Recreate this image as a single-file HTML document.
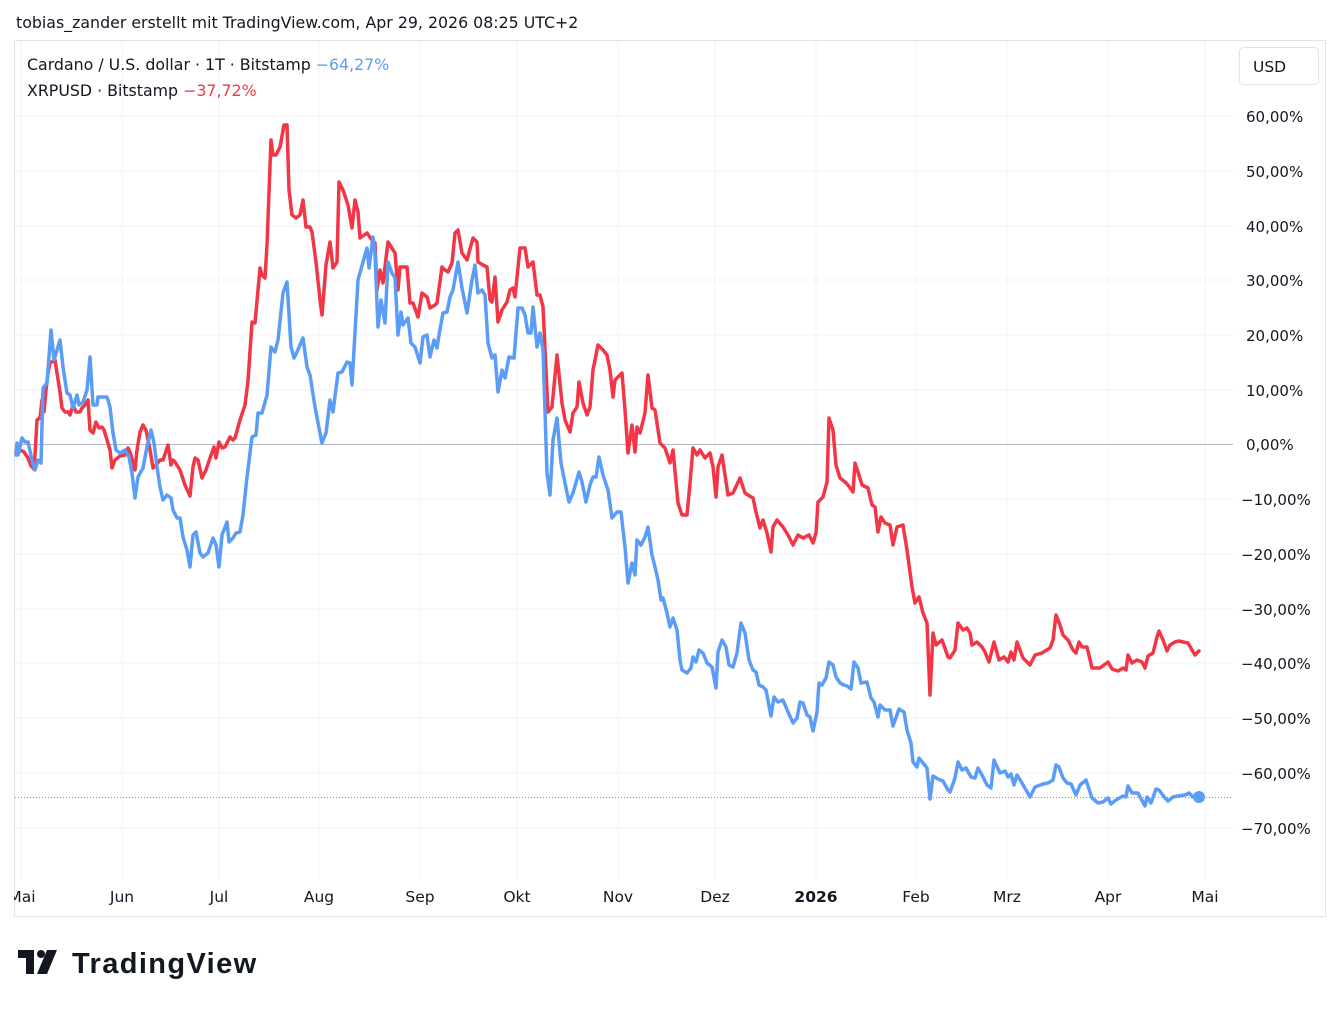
<!DOCTYPE html>
<html><head><meta charset="utf-8"><style>
body{margin:0;background:#fff;font-family:"DejaVu Sans",sans-serif;}
svg text{font-family:"DejaVu Sans",sans-serif;}
</style></head><body>
<svg width="1341" height="1007" xmlns="http://www.w3.org/2000/svg">
<rect width="1341" height="1007" fill="#fff"/>
<text x="16" y="28" font-size="15.8" fill="#131722">tobias_zander erstellt mit TradingView.com, Apr 29, 2026 08:25 UTC+2</text>
<rect x="14.5" y="40.5" width="1311" height="876" fill="none" stroke="#e0e3eb"/>
<g stroke="#f0f3fa" stroke-width="1">
<line x1="15" y1="116" x2="1233" y2="116"/><line x1="15" y1="171" x2="1233" y2="171"/><line x1="15" y1="226" x2="1233" y2="226"/><line x1="15" y1="280" x2="1233" y2="280"/><line x1="15" y1="335" x2="1233" y2="335"/><line x1="15" y1="390" x2="1233" y2="390"/><line x1="15" y1="499" x2="1233" y2="499"/><line x1="15" y1="554" x2="1233" y2="554"/><line x1="15" y1="609" x2="1233" y2="609"/><line x1="15" y1="663" x2="1233" y2="663"/><line x1="15" y1="718" x2="1233" y2="718"/><line x1="15" y1="773" x2="1233" y2="773"/><line x1="15" y1="828" x2="1233" y2="828"/>
<line x1="21" y1="41" x2="21" y2="880"/><line x1="122" y1="41" x2="122" y2="880"/><line x1="219" y1="41" x2="219" y2="880"/><line x1="319" y1="41" x2="319" y2="880"/><line x1="420" y1="41" x2="420" y2="880"/><line x1="517" y1="41" x2="517" y2="880"/><line x1="618" y1="41" x2="618" y2="880"/><line x1="715" y1="41" x2="715" y2="880"/><line x1="816" y1="41" x2="816" y2="880"/><line x1="916" y1="41" x2="916" y2="880"/><line x1="1007" y1="41" x2="1007" y2="880"/><line x1="1108" y1="41" x2="1108" y2="880"/><line x1="1205" y1="41" x2="1205" y2="880"/>
</g>
<line x1="15" y1="444.5" x2="1233" y2="444.5" stroke="#b2b5be" stroke-width="1"/>
<line x1="15" y1="797.5" x2="1233" y2="797.5" stroke="#5b9cf6" stroke-width="1" stroke-dasharray="1,2"/>
<g fill="none" stroke-width="3.5" stroke-linejoin="round" stroke-linecap="round">
<polyline stroke="#f23645" points="16,452 20,450 24,452 28,458 31,466 34,469 35,455 37,420 40,418 42,400 44,412 46,390 48,373 50,363 55,360 57,373 60,392 62,408 65,412 68,412 70,415 73,405 76,412 80,412 82,408 85,405 88,400 90,430 93,433 96,422 99,428 102,427 104,430 107,440 110,450 112,468 115,460 120,456 125,455 128,448 130,452 133,462 135,470 137,450 140,432 143,425 146,430 150,450 153,468 156,465 160,460 163,460 168,445 171,465 173,460 175,462 180,470 185,485 190,496 193,467 195,458 198,460 202,478 206,470 210,458 214,447 216,458 219,442 222,448 225,447 230,437 233,440 235,438 240,420 245,405 248,381 252,322 255,323 260,268 262,275 265,278 267,245 271,140 273,155 276,155 280,147 284,125 287,125 289,190 292,215 296,218 300,215 303,200 306,227 310,227 312,232 316,262 320,300 322,315 326,265 330,242 333,268 337,262 339,182 343,190 348,205 352,228 355,200 358,212 360,238 367,233 372,240 375,243 377,290 380,270 383,283 388,242 395,253 398,290 400,267 407,267 410,303 413,303 418,317 422,293 427,297 430,308 435,305 437,303 442,267 445,270 448,272 452,263 455,233 458,230 462,253 467,260 473,238 477,242 478,262 483,265 487,267 490,300 492,302 495,277 498,322 502,310 507,302 510,290 513,288 515,297 520,248 525,248 528,267 533,262 537,295 540,295 543,307 548,412 552,407 557,355 562,403 565,420 570,432 573,413 577,407 579,382 583,403 587,415 590,407 593,370 598,345 603,350 607,355 610,370 613,397 615,380 622,373 625,410 628,453 632,425 635,452 637,427 640,433 645,413 648,375 652,408 655,410 660,443 665,448 670,463 673,450 678,503 682,515 687,515 690,483 693,448 697,455 700,450 705,458 710,453 713,467 716,497 718,467 722,455 728,495 733,493 740,478 745,493 748,495 753,498 756,512 760,528 763,520 767,533 771,552 773,527 777,520 783,527 788,535 793,545 798,535 803,538 809,535 813,543 816,533 818,502 823,497 827,482 829,418 833,430 836,465 840,478 845,482 848,485 853,492 855,463 858,472 862,485 868,488 872,505 875,507 878,532 881,517 885,523 890,525 893,545 897,527 903,525 907,550 912,587 915,603 919,597 923,613 927,623 930,695 933,633 936,645 942,640 948,657 950,658 955,650 958,623 963,630 967,628 970,633 972,645 977,642 982,647 985,652 989,662 994,642 999,660 1004,657 1008,662 1011,652 1014,660 1017,642 1023,658 1030,665 1035,655 1042,653 1050,648 1053,640 1056,615 1060,625 1063,635 1068,640 1073,650 1076,653 1079,642 1082,647 1087,647 1092,668 1100,668 1108,662 1112,669 1118,671 1123,668 1126,670 1128,655 1132,663 1137,660 1142,662 1145,668 1148,656 1153,653 1157,637 1159,631 1163,640 1167,651 1170,645 1175,642 1179,641 1183,642 1188,643 1192,650 1195,655 1199,651"/>
<polyline stroke="#5b9cf6" points="16,455 17,443 18,455 22,438 25,442 28,442 32,460 35,470 38,460 41,463 43,388 47,383 51,330 54,360 57,350 60,340 63,367 67,393 70,395 73,408 77,395 79,405 83,402 87,390 90,357 93,405 97,405 98,397 107,397 110,407 113,433 116,450 120,453 125,450 129,457 132,473 135,498 138,477 143,468 147,447 151,430 154,443 157,467 160,487 163,500 167,495 171,498 173,510 177,518 180,518 183,537 187,550 190,567 193,535 196,532 200,553 203,557 208,553 213,538 216,545 219,567 222,535 227,522 229,542 233,538 236,533 240,532 243,515 247,477 252,437 256,435 258,413 262,413 267,395 271,347 275,352 278,340 283,293 287,282 291,347 294,358 297,352 303,338 307,367 310,375 315,407 320,433 322,443 326,433 330,400 333,412 338,373 342,372 347,362 350,363 352,385 358,280 363,262 367,248 369,268 373,237 375,253 378,327 381,300 385,323 388,262 392,273 395,278 398,335 401,312 403,325 408,318 411,343 415,347 420,363 423,337 427,335 430,357 434,340 437,348 439,335 443,313 447,312 450,297 453,290 458,262 462,288 467,313 472,280 475,265 478,293 482,290 485,295 488,343 492,358 495,355 498,392 502,370 505,378 509,357 514,358 518,308 522,308 525,315 528,333 531,333 533,307 537,347 540,333 543,350 547,473 550,495 553,440 557,418 561,463 565,483 569,502 573,493 579,472 582,482 586,502 590,485 593,477 596,477 599,457 603,475 608,490 612,518 617,512 621,512 625,547 628,583 632,563 635,575 637,540 641,545 645,537 648,527 652,555 655,567 658,580 661,600 663,598 667,613 670,627 673,618 677,630 680,660 682,670 687,673 691,668 693,657 696,662 699,650 703,653 707,663 712,667 716,688 718,652 722,640 726,647 729,665 733,667 737,653 741,623 745,633 749,660 753,670 756,672 759,685 763,687 766,690 771,716 774,697 778,702 783,700 788,712 793,723 797,718 800,702 803,703 807,715 810,717 813,731 817,712 819,683 822,685 826,678 829,662 833,665 836,677 840,683 844,685 847,686 851,689 854,662 858,668 861,683 867,682 871,698 874,702 878,717 880,705 885,710 890,710 893,726 899,709 904,712 907,730 911,743 913,762 917,767 919,758 923,763 927,768 930,799 933,776 938,779 943,781 948,790 950,792 955,778 958,762 962,770 966,768 971,777 975,778 978,768 983,777 987,785 991,788 994,760 1000,773 1005,771 1008,777 1011,774 1014,785 1017,775 1022,783 1030,797 1035,787 1043,784 1048,783 1053,780 1056,765 1059,767 1063,778 1067,783 1071,784 1076,795 1080,785 1086,780 1092,798 1098,803 1103,802 1108,798 1111,804 1116,800 1123,796 1126,797 1128,786 1132,793 1138,793 1145,806 1147,797 1151,803 1156,789 1159,790 1165,798 1168,801 1173,797 1178,796 1185,795 1189,793 1193,797 1199,797"/>
</g>
<circle cx="1199" cy="797" r="6" fill="#5b9cf6"/>
<g font-size="15.8" fill="#131722">
<text x="27" y="70">Cardano / U.S. dollar · 1T · Bitstamp <tspan fill="#5b9cf6">−64,27%</tspan></text>
<text x="27" y="96">XRPUSD · Bitstamp <tspan fill="#f23645">−37,72%</tspan></text>
</g>
<rect x="1239.5" y="47.5" width="79" height="37" rx="4" fill="#fff" stroke="#e0e3eb"/>
<text x="1253" y="72" font-size="15.5" fill="#131722">USD</text>
<g font-size="15" fill="#131722">
<text x="1246" y="122">60,00%</text><text x="1246" y="177">50,00%</text><text x="1246" y="232">40,00%</text><text x="1246" y="286">30,00%</text><text x="1246" y="341">20,00%</text><text x="1246" y="396">10,00%</text><text x="1246" y="450">0,00%</text><text x="1241" y="505">−10,00%</text><text x="1241" y="560">−20,00%</text><text x="1241" y="615">−30,00%</text><text x="1241" y="669">−40,00%</text><text x="1241" y="724">−50,00%</text><text x="1241" y="779">−60,00%</text><text x="1241" y="834">−70,00%</text>
</g>
<g font-size="15.5" fill="#131722" text-anchor="middle">
<text x="22" y="902">Mai</text><text x="122" y="902">Jun</text><text x="219" y="902">Jul</text><text x="319" y="902">Aug</text><text x="420" y="902">Sep</text><text x="517" y="902">Okt</text><text x="618" y="902">Nov</text><text x="715" y="902">Dez</text><text x="816" y="902" font-weight="bold">2026</text><text x="916" y="902">Feb</text><text x="1007" y="902">Mrz</text><text x="1108" y="902">Apr</text><text x="1205" y="902">Mai</text>
</g>
<rect x="0" y="880" width="14" height="30" fill="#fff"/>
<g fill="#131722">
<path d="M18 950h16v24h-8v-16h-8z"/>
<circle cx="41" cy="954" r="4"/>
<path d="M47 950h10l-10 24h-10z"/>
<text x="72" y="973" font-size="29" font-weight="bold" letter-spacing="-1.2" font-family="Liberation Sans, sans-serif" style="font-family:'Liberation Sans',sans-serif" textLength="183">TradingView</text>
</g>
</svg>
</body></html>
